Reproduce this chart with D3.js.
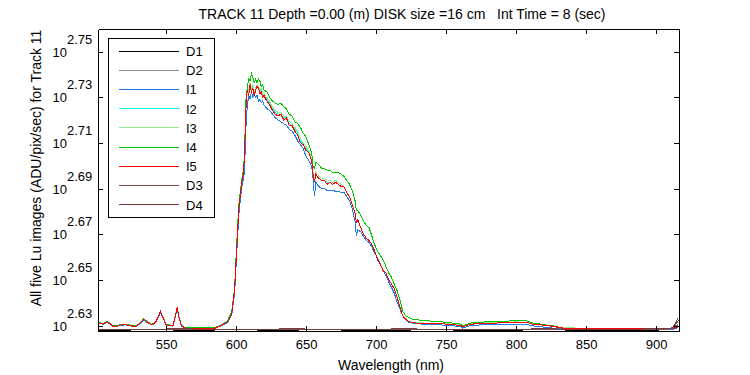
<!DOCTYPE html>
<html lang="en">
<head>
<meta charset="UTF-8">
<title>Track 11 Lu images</title>
<script src="https://d3js.org/d3.v7.min.js"></script>
<style>
  body { margin: 0; background: #fff; }
  svg text { font-family: "Liberation Sans", Arial, sans-serif; font-size: 13px; fill: #000; }
  .axis path, .axis line { stroke: #000; shape-rendering: crispEdges; }
  .series { fill: none; stroke-width: 1px; shape-rendering: crispEdges; }
  .big { font-size: 14px; }
</style>
</head>
<body>
<svg width="750" height="375"></svg>
<script>
// wavelength grid (nm) shared by the five Lu images
const wavelength = [
  502,505,508,510,512,515,518,521,524,528,
  531,534,537,540,543,546,548,550,553,555,
  557,558,559,561,564,570,575,580,585,590,
  594,597,599,600,601,602,603,604,605,606,
  607,608,609,610,611,612,613,614,615,616,
  617,618,619,620,622,624,626,628,630,632,
  634,636,638,640,642,644,646,648,650,652,
  654,655,656,657,659,661,663,665,667,669,
  671,673,675,677,679,681,683,685,686,687,
  689,691,693,695,697,699,701,703,705,707,
  709,711,713,715,717,719,721,723,726,729,
  735,740,746,752,757,760,762,765,767,775,
  785,795,800,803,808,812,818,822,827,830,
  834,840,850,860,870,880,890,900,905,912,
  914,916
];

const I1 = [
  427.6,427.3,428.0,427.5,426.2,426.4,426.9,427.0,426.7,426.2,
  427.3,429.2,427.8,426.9,428.3,432.2,429.8,426.9,426.7,426.5,
  431.5,434.0,430.8,426.5,425.5,425.5,425.5,425.5,425.5,426.8,
  428.0,431.5,441.0,453.0,465.0,477.0,484.0,490.0,494.0,498.0,
  520,532,538,536,540,537,539,537,538,535,
  536,534,535,533,531,530,528,526,525,524,
  523,522,520,519,517,514,512,510,506,504,
  501,495,486,493,491,490,490,489,489,489,
  488.5,488.5,488,488,486,484,480,474,467,470,
  469,467,465,464,462,459,457,454,451,449,
  446,443.5,441,437,434,431,429.2,428.3,427.8,427.5,
  427.3,427.1,427.0,426.8,426.5,426.3,425.6,426.2,426.8,427.0,
  427.2,427.3,427.4,427.3,427.2,426.6,426.2,425.9,425.6,425.4,
  425.3,425.2,425.2,425.1,425.1,425.1,425.1,425.1,425.1,425.1,
  425.5,425.8
];

const I2 = [
  427.9,427.6,428.3,427.7,426.4,426.6,427.1,427.2,426.9,426.4,
  427.6,429.6,428.1,427.1,428.6,432.9,430.1,427.1,426.9,426.7,
  432.1,434.8,431.1,426.7,425.7,425.7,425.7,425.7,425.7,427.1,
  428.5,432.4,442.6,455.5,468.5,480.5,486.5,493.0,496.5,505.5,
  531,541,539,544,541,543,539,541,543,542,
  540,541,538,538,536,534,531,529,528,528,
  526,526,523,522,520,518,514,512,510,508,
  505,498,494,497,495,494,494,493,493,492,
  493,492,491,491,488,486,482,478,473,475,
  471,468,466,465,463,460,456,454,451,450,
  447,445,443,439,435,431,429.5,428.6,428.1,427.9,
  427.7,427.6,427.6,427.4,427.1,426.9,426.4,426.9,427.4,427.7,
  427.9,428.1,428.2,428.1,428.1,427.4,427.1,426.9,426.4,426.1,
  425.7,425.6,425.5,425.5,425.4,425.4,425.4,425.4,425.4,425.4,
  426.0,426.6
];

const I3 = [
  428.0,427.7,428.4,427.8,426.5,426.7,427.2,427.3,427.0,426.5,
  427.7,429.7,428.2,427.2,428.7,433.0,430.2,427.2,427.0,426.8,
  432.2,434.9,431.2,426.8,425.8,425.8,425.8,425.8,425.8,427.2,
  428.6,432.6,443.0,456.0,469.0,481.0,487.0,493.5,497.0,506.0,
  532,542,540,545,542,544,540,542,544,543,
  541,542,539,539,537,535,532,530,529,529,
  527,527,524,523,521,519,515,513,511,509,
  505,498,494,498,496,495,495,494,494,493,
  494,493,492,491,488,486,482,478,473,475,
  471,468,466,465,463,460,456,454,451,450,
  447,445,443,439,435,431,429.6,428.7,428.2,428.0,
  427.8,427.7,427.7,427.5,427.2,427.0,426.5,427.0,427.5,427.8,
  428.0,428.2,428.3,428.2,428.2,427.5,427.2,427.0,426.5,426.2,
  425.8,425.7,425.6,425.6,425.5,425.5,425.5,425.5,425.5,425.5,
  426.1,426.7
];

const I4 = [
  428.0,427.6,428.4,427.8,426.6,426.8,427.2,427.3,427.0,426.5,
  427.6,429.6,428.2,427.2,428.6,432.6,430.2,427.2,426.9,426.7,
  431.8,434.4,431.2,426.8,425.7,425.7,425.7,425.7,425.8,427.2,
  428.8,433.0,443.5,457.0,470.0,482.0,488.0,494.0,498.0,506.0,
  535,542,547,546,550,548,545,547,545,547,
  546,543,544,541,540,537,535,534,533,534,
  532,531,528,527,524,523,521,518,516,512,
  508,501,500,503,502,500,500,499,499,498,
  498,498,497,496,494,492,489,484,479,479,
  477,474,472,471,467,463,460,458,456,453,
  450,448,445,442,438,433,431,430.3,429.5,429.2,
  428.9,428.6,428.4,428.0,427.6,427.5,426.6,427.2,427.8,428.2,
  428.5,428.7,428.9,428.9,428.7,427.8,427.3,426.9,426.6,426.1,
  425.6,425.5,425.4,425.4,425.4,425.3,425.3,425.3,425.3,425.3,
  425.8,426.3
];

const I5 = [
  427.8,427.5,428.2,427.6,426.3,426.5,427.0,427.1,426.8,426.3,
  427.5,429.5,428.0,427.0,428.5,432.8,430.0,427.0,426.8,426.6,
  432.0,434.7,431.0,426.6,425.6,425.6,425.6,425.6,425.6,427.0,
  428.4,432.2,442.4,455.0,468.0,480.0,486.0,492.6,496.0,505.0,
  530,541,538,544,540,542,538,541,543,542,
  539,540,537,538,535,533,530,528,527,528,
  525,526,522,522,519,517,513,512,509,508,
  504,497,493,497,495,494,494,492,493,492,
  493,492,491,491,488,486,482,478,473,475,
  471,468,466,465,463,460,456,454,451,450,
  447,445,443,439,435,431,429.5,428.5,428.0,427.8,
  427.6,427.5,427.5,427.3,427.0,426.8,426.3,426.8,427.3,427.6,
  427.8,428.0,428.1,428.0,428.0,427.3,427.0,426.8,426.3,426.0,
  425.6,425.5,425.4,425.4,425.3,425.3,425.3,425.3,425.3,425.3,
  425.9,426.5
];

// dark images, sampled more coarsely
const darkWavelength = [502,520,540,560,580,600,620,640,660,680,700,720,740,760,780,800,820,840,860,880,900,908,912,914,916];
const D1 = [424.8,424.8,424.9,424.8,424.8,424.9,424.8,424.8,424.9,424.8,424.8,424.8,424.9,424.8,424.8,424.8,424.9,424.8,424.8,424.8,424.8,424.9,425.0,425.6,426.5];
const D2 = [424.9,424.9,424.9,425.0,424.9,424.9,425.0,424.9,424.9,425.0,424.9,424.9,424.9,425.0,424.9,424.9,424.9,425.0,424.9,424.9,425.0,425.0,425.2,426.0,427.5];
const D3 = [425.1,425.1,425.2,425.1,425.1,425.1,425.2,425.1,425.1,425.1,425.2,425.1,425.1,425.1,425.1,425.2,425.1,425.1,425.1,425.2,425.1,425.2,425.5,427.0,429.0];
const D4 = [425.2,425.2,425.2,425.3,425.2,425.2,425.2,425.3,425.2,425.2,425.2,425.3,425.2,425.2,425.2,425.2,425.3,425.2,425.2,425.2,425.3,425.3,425.8,428.0,430.2];

const seriesNames = ["D1", "D2", "I1", "I2", "I3", "I4", "I5", "D3", "D4"];
const seriesColors = ["#000000", "#8c8c8c", "#1e7ae6", "#00ffff", "#90ee90", "#00c800", "#ff0000", "#805050", "#7a3a3a"];

const xTicks = [550, 600, 650, 700, 750, 800, 850, 900];
const yTickExponents = ["2.63", "2.65", "2.67", "2.69", "2.71", "2.73", "2.75"];

const titleText = "TRACK 11 Depth =0.00 (m) DISK size =16 cm   Int Time = 8 (sec)";
const xLabel = "Wavelength (nm)";
const yLabel = "All five Lu images (ADU/pix/sec) for Track 11";

// plot box
const box = { left: 98, right: 679, top: 29, bottom: 331 };

const svg = d3.select("svg");
svg.append("rect").attr("width", 750).attr("height", 375).attr("fill", "#fff");

const x = d3.scaleLinear().domain([501.4, 916.4]).range([box.left, box.right]);
const y = d3.scaleLog().domain([424.4, 575.3]).range([box.bottom, box.top]);

svg.append("defs").append("clipPath").attr("id", "plotClip")
  .append("rect").attr("x", box.left).attr("y", box.top)
  .attr("width", box.right - box.left).attr("height", box.bottom - box.top);

// lines, drawn in legend order
const seriesData = {
  D1: darkWavelength.map((w, i) => [w, D1[i]]),
  D2: darkWavelength.map((w, i) => [w, D2[i]]),
  I1: wavelength.map((w, i) => [w, I1[i]]),
  I2: wavelength.map((w, i) => [w, I2[i]]),
  I3: wavelength.map((w, i) => [w, I3[i]]),
  I4: wavelength.map((w, i) => [w, I4[i]]),
  I5: wavelength.map((w, i) => [w, I5[i]]),
  D3: darkWavelength.map((w, i) => [w, D3[i]]),
  D4: darkWavelength.map((w, i) => [w, D4[i]])
};

const line = d3.line().x(d => x(d[0])).y(d => y(d[1]));

svg.append("g").attr("clip-path", "url(#plotClip)")
  .selectAll("path")
  .data(seriesNames)
  .join("path")
  .attr("class", "series")
  .attr("stroke", (d, i) => seriesColors[i])
  .attr("d", d => line(seriesData[d]));

// axes: ticks point inward on all four sides
const yTickValues = yTickExponents.map(e => Math.pow(10, +e));

svg.append("g").attr("class", "axis")
  .attr("transform", `translate(0,${box.bottom})`)
  .call(d3.axisBottom(x).tickValues(xTicks).tickSizeInner(-5).tickSizeOuter(0).tickPadding(9))
  .call(g => g.selectAll("text").style("font-size", "13px").attr("fill", "#000"));

svg.append("g").attr("class", "axis")
  .attr("transform", `translate(0,${box.top})`)
  .call(d3.axisTop(x).tickValues(xTicks).tickSizeInner(-5).tickSizeOuter(0).tickFormat(""));

svg.append("g").attr("class", "axis")
  .attr("transform", `translate(${box.left},0)`)
  .call(d3.axisLeft(y).tickValues(yTickValues).tickSizeInner(-5).tickSizeOuter(0).tickFormat(""));

svg.append("g").attr("class", "axis")
  .attr("transform", `translate(${box.right},0)`)
  .call(d3.axisRight(y).tickValues(yTickValues).tickSizeInner(-5).tickSizeOuter(0).tickFormat(""));

// y tick labels as 10 with a raised exponent
const yLab = svg.append("g").selectAll("g")
  .data(yTickExponents)
  .join("g")
  .attr("transform", d => `translate(0,${y(Math.pow(10, +d))})`);
yLab.append("text").attr("x", 67).attr("y", 5).attr("text-anchor", "end").text("10");
yLab.append("text").attr("x", 67).attr("y", -8).text(d => d);

// titles
svg.append("text").attr("class", "big").attr("x", 402).attr("y", 19).attr("text-anchor", "middle")
  .style("white-space", "pre").text(titleText);
svg.append("text").attr("class", "big").attr("x", 391).attr("y", 370).attr("text-anchor", "middle").text(xLabel);
svg.append("text").attr("class", "big").attr("transform", "translate(41,168) rotate(-90)")
  .attr("text-anchor", "middle").text(yLabel);

// legend
const legend = svg.append("g");
legend.append("rect").attr("x", 108.5).attr("y", 38.5).attr("width", 106).attr("height", 179)
  .attr("fill", "#fff").attr("stroke", "#000").attr("shape-rendering", "crispEdges");
const items = legend.selectAll("g.item")
  .data(seriesNames)
  .join("g")
  .attr("class", "item")
  .attr("transform", (d, i) => `translate(0,${51 + i * 19.2})`);
items.append("line").attr("x1", 119).attr("x2", 179).attr("y1", 0).attr("y2", 0)
  .attr("stroke", (d, i) => seriesColors[i]).attr("stroke-width", 1)
  .attr("shape-rendering", "crispEdges");
items.append("text").attr("x", 186).attr("y", 5).text(d => d);
</script>
</body>
</html>
